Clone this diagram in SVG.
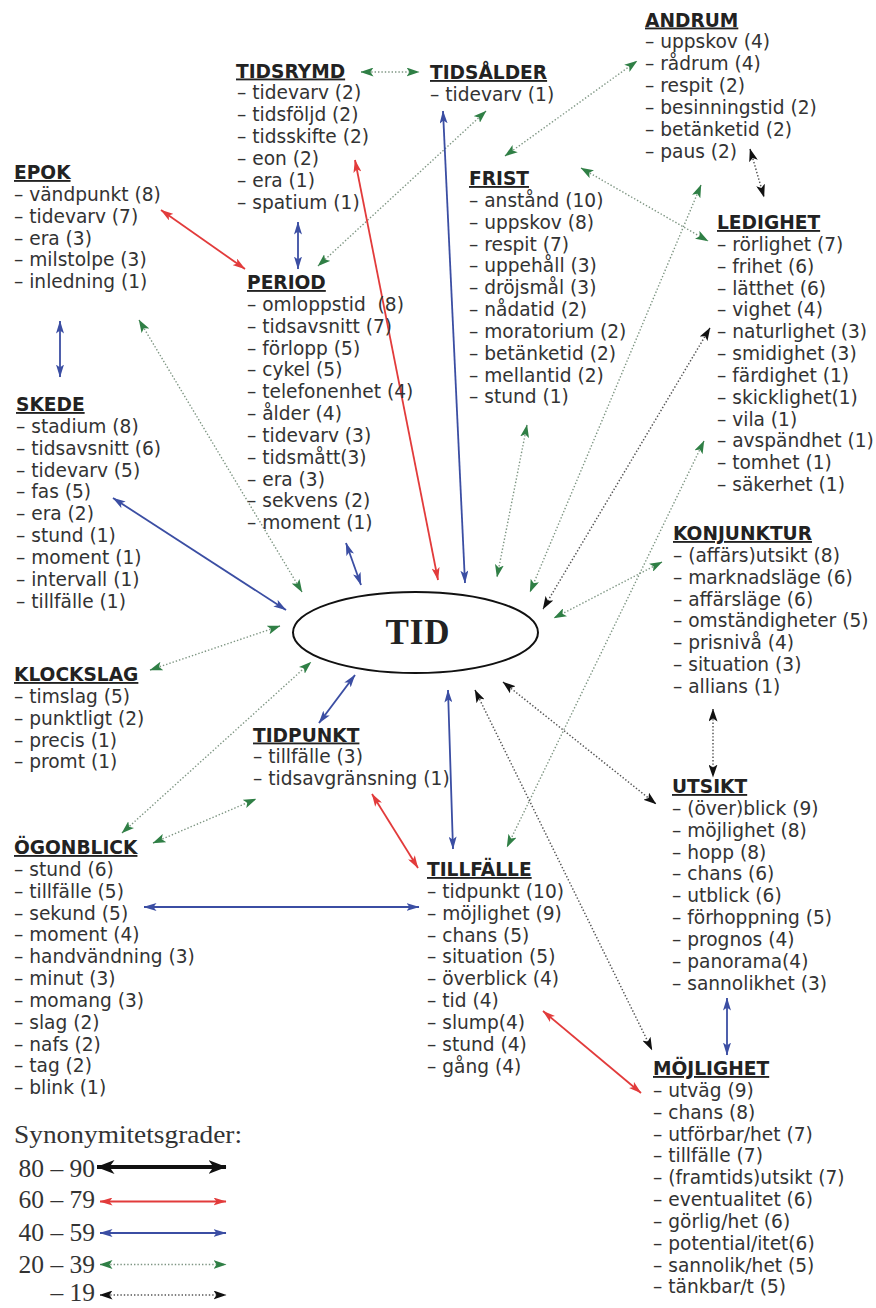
<svg xmlns="http://www.w3.org/2000/svg" width="876" height="1308" viewBox="0 0 876 1308">
<defs>
<style>
.t{font-family:"DejaVu Sans",Verdana,sans-serif;font-size:18.6px;fill:#333}
.h{font-family:"DejaVu Sans",Verdana,sans-serif;font-size:18.6px;font-weight:bold;fill:#222;text-decoration:underline}
.lg{font-family:"Liberation Serif","Times New Roman",serif;font-size:25.5px;fill:#333}
.sR{stroke:#e23b3b;stroke-width:1.8;fill:none;marker-start:url(#aR);marker-end:url(#aR)}
.sB{stroke:#3b4ea3;stroke-width:1.8;fill:none;marker-start:url(#aB);marker-end:url(#aB)}
.dG{stroke:#7d9582;stroke-width:1.4;stroke-dasharray:1.4 2;fill:none;marker-start:url(#aG);marker-end:url(#aG)}
.dK{stroke:#555;stroke-width:1.5;stroke-dasharray:1.4 2;fill:none;marker-start:url(#aK);marker-end:url(#aK)}
.sK{stroke:#111;stroke-width:4;fill:none;marker-start:url(#aKL);marker-end:url(#aKL)}
</style>
<marker id="aR" viewBox="0 0 13 8" refX="12.5" refY="4" markerWidth="13" markerHeight="8" markerUnits="userSpaceOnUse" orient="auto-start-reverse"><path d="M0,0 L13,4 L0,8 L3,4 Z" fill="#e23b3b"/></marker>
<marker id="aB" viewBox="0 0 13 8" refX="12.5" refY="4" markerWidth="13" markerHeight="8" markerUnits="userSpaceOnUse" orient="auto-start-reverse"><path d="M0,0 L13,4 L0,8 L3,4 Z" fill="#3b4ea3"/></marker>
<marker id="aG" viewBox="0 0 13 9" refX="12.5" refY="4.5" markerWidth="13" markerHeight="9" markerUnits="userSpaceOnUse" orient="auto-start-reverse"><path d="M0,0 L13,4.5 L0,9 L3,4.5 Z" fill="#2f7f45"/></marker>
<marker id="aK" viewBox="0 0 13 9" refX="12.5" refY="4.5" markerWidth="13" markerHeight="9" markerUnits="userSpaceOnUse" orient="auto-start-reverse"><path d="M0,0 L13,4.5 L0,9 L3,4.5 Z" fill="#111"/></marker>
<marker id="aKL" viewBox="0 0 18 14" refX="17.5" refY="7" markerWidth="18" markerHeight="14" markerUnits="userSpaceOnUse" orient="auto-start-reverse"><path d="M0,0 L18,7 L0,14 L5,7 Z" fill="#111"/></marker>
</defs>
<rect width="876" height="1308" fill="#fff"/>

<g id="connectors">
<line class="dG" x1="361" y1="72" x2="419" y2="72"/>
<line class="sB" x1="298" y1="222" x2="298" y2="269"/>
<line class="sR" x1="161" y1="210" x2="245" y2="269"/>
<line class="dG" x1="486" y1="111" x2="318" y2="266"/>
<line class="dG" x1="505" y1="156" x2="637" y2="61"/>
<line class="dK" x1="750" y1="149" x2="764" y2="197"/>
<line class="dG" x1="581" y1="168" x2="708" y2="241"/>
<line class="sB" x1="443" y1="111" x2="465" y2="583"/>
<line class="sR" x1="355" y1="160" x2="438" y2="580"/>
<line class="sB" x1="346" y1="543" x2="361" y2="585"/>
<line class="dG" x1="139" y1="320" x2="302" y2="592"/>
<line class="sB" x1="60" y1="321" x2="60" y2="377"/>
<line class="sB" x1="113" y1="498" x2="286" y2="610"/>
<line class="dG" x1="150" y1="670" x2="280" y2="626"/>
<line class="dG" x1="122" y1="833" x2="311" y2="662"/>
<line class="dG" x1="153" y1="843" x2="256" y2="799"/>
<line class="sB" x1="319" y1="723" x2="355" y2="675"/>
<line class="sR" x1="372" y1="794" x2="418" y2="868"/>
<line class="sB" x1="448" y1="690" x2="453" y2="849"/>
<line class="sB" x1="144" y1="907" x2="419" y2="907"/>
<line class="sR" x1="543" y1="1011" x2="641" y2="1093"/>
<line class="dK" x1="475" y1="690" x2="652" y2="1050"/>
<line class="dK" x1="503" y1="682" x2="656" y2="804"/>
<line class="dK" x1="713" y1="709" x2="713" y2="777"/>
<line class="sB" x1="727" y1="998" x2="727" y2="1055"/>
<line class="dG" x1="662" y1="562" x2="554" y2="618"/>
<line class="dK" x1="710" y1="328" x2="543" y2="609"/>
<line class="dG" x1="527" y1="425" x2="497" y2="577"/>
<line class="dG" x1="701" y1="185" x2="530" y2="592"/>
<line class="dG" x1="704" y1="441" x2="507" y2="847"/>
</g>

<g id="tid">
<ellipse cx="415.5" cy="632.5" rx="122.5" ry="40.5" fill="#fff" stroke="#111" stroke-width="2"/>
<text x="418" y="643.5" text-anchor="middle" font-family="'Liberation Serif','Times New Roman',serif" font-size="35" font-weight="bold" fill="#222" letter-spacing="1">TID</text>
</g>

<g id="andrum">
<text class="h" x="645" y="26.5">ANDRUM</text>
<text class="t" x="645" y="48.3"><tspan x="645">– uppskov (4)</tspan><tspan x="645" dy="21.85">– rådrum (4)</tspan><tspan x="645" dy="21.85">– respit (2)</tspan><tspan x="645" dy="21.85">– besinningstid (2)</tspan><tspan x="645" dy="21.85">– betänketid (2)</tspan><tspan x="645" dy="21.85">– paus (2)</tspan></text>
</g>

<g id="tidsrymd">
<text class="h" x="236" y="77.5">TIDSRYMD</text>
<text class="t" x="237" y="99.3"><tspan x="237">– tidevarv (2)</tspan><tspan x="237" dy="21.85">– tidsföljd (2)</tspan><tspan x="237" dy="21.85">– tidsskifte (2)</tspan><tspan x="237" dy="21.85">– eon (2)</tspan><tspan x="237" dy="21.85">– era (1)</tspan><tspan x="237" dy="21.85">– spatium (1)</tspan></text>
</g>

<g id="tidsalder">
<text class="h" x="430" y="79">TIDSÅLDER</text>
<text class="t" x="430" y="101"><tspan x="430">– tidevarv (1)</tspan></text>
</g>

<g id="epok">
<text class="h" x="14" y="179">EPOK</text>
<text class="t" x="14" y="200.8"><tspan x="14">– vändpunkt (8)</tspan><tspan x="14" dy="21.85">– tidevarv (7)</tspan><tspan x="14" dy="21.85">– era (3)</tspan><tspan x="14" dy="21.85">– milstolpe (3)</tspan><tspan x="14" dy="21.85">– inledning (1)</tspan></text>
</g>

<g id="frist">
<text class="h" x="469" y="185">FRIST</text>
<text class="t" x="469" y="206.8"><tspan x="469">– anstånd (10)</tspan><tspan x="469" dy="21.85">– uppskov (8)</tspan><tspan x="469" dy="21.85">– respit (7)</tspan><tspan x="469" dy="21.85">– uppehåll (3)</tspan><tspan x="469" dy="21.85">– dröjsmål (3)</tspan><tspan x="469" dy="21.85">– nådatid (2)</tspan><tspan x="469" dy="21.85">– moratorium (2)</tspan><tspan x="469" dy="21.85">– betänketid (2)</tspan><tspan x="469" dy="21.85">– mellantid (2)</tspan><tspan x="469" dy="21.85">– stund (1)</tspan></text>
</g>

<g id="ledighet">
<text class="h" x="717" y="229">LEDIGHET</text>
<text class="t" x="717" y="250.8"><tspan x="717">– rörlighet (7)</tspan><tspan x="717" dy="21.85">– frihet (6)</tspan><tspan x="717" dy="21.85">– lätthet (6)</tspan><tspan x="717" dy="21.85">– vighet (4)</tspan><tspan x="717" dy="21.85">– naturlighet (3)</tspan><tspan x="717" dy="21.85">– smidighet (3)</tspan><tspan x="717" dy="21.85">– färdighet (1)</tspan><tspan x="717" dy="21.85">– skicklighet(1)</tspan><tspan x="717" dy="21.85">– vila (1)</tspan><tspan x="717" dy="21.85">– avspändhet (1)</tspan><tspan x="717" dy="21.85">– tomhet (1)</tspan><tspan x="717" dy="21.85">– säkerhet (1)</tspan></text>
</g>

<g id="period">
<text class="h" x="247" y="289">PERIOD</text>
<text class="t" x="247" y="310.8"><tspan x="247">– omloppstid&#160; (8)</tspan><tspan x="247" dy="21.85">– tidsavsnitt (7)</tspan><tspan x="247" dy="21.85">– förlopp (5)</tspan><tspan x="247" dy="21.85">– cykel (5)</tspan><tspan x="247" dy="21.85">– telefonenhet (4)</tspan><tspan x="247" dy="21.85">– ålder (4)</tspan><tspan x="247" dy="21.85">– tidevarv (3)</tspan><tspan x="247" dy="21.85">– tidsmått(3)</tspan><tspan x="247" dy="21.85">– era (3)</tspan><tspan x="247" dy="21.85">– sekvens (2)</tspan><tspan x="247" dy="21.85">– moment (1)</tspan></text>
</g>

<g id="skede">
<text class="h" x="16" y="411">SKEDE</text>
<text class="t" x="16" y="432.8"><tspan x="16">– stadium (8)</tspan><tspan x="16" dy="21.85">– tidsavsnitt (6)</tspan><tspan x="16" dy="21.85">– tidevarv (5)</tspan><tspan x="16" dy="21.85">– fas (5)</tspan><tspan x="16" dy="21.85">– era (2)</tspan><tspan x="16" dy="21.85">– stund (1)</tspan><tspan x="16" dy="21.85">– moment (1)</tspan><tspan x="16" dy="21.85">– intervall (1)</tspan><tspan x="16" dy="21.85">– tillfälle (1)</tspan></text>
</g>

<g id="konjunktur">
<text class="h" x="673" y="540">KONJUNKTUR</text>
<text class="t" x="673" y="561.8"><tspan x="673">– (affärs)utsikt (8)</tspan><tspan x="673" dy="21.85">– marknadsläge (6)</tspan><tspan x="673" dy="21.85">– affärsläge (6)</tspan><tspan x="673" dy="21.85">– omständigheter (5)</tspan><tspan x="673" dy="21.85">– prisnivå (4)</tspan><tspan x="673" dy="21.85">– situation (3)</tspan><tspan x="673" dy="21.85">– allians (1)</tspan></text>
</g>

<g id="klockslag">
<text class="h" x="14" y="681">KLOCKSLAG</text>
<text class="t" x="14" y="702.8"><tspan x="14">– timslag (5)</tspan><tspan x="14" dy="21.85">– punktligt (2)</tspan><tspan x="14" dy="21.85">– precis (1)</tspan><tspan x="14" dy="21.85">– promt (1)</tspan></text>
</g>

<g id="tidpunkt">
<text class="h" x="253" y="741.5">TIDPUNKT</text>
<text class="t" x="253" y="763.3"><tspan x="253">– tillfälle (3)</tspan><tspan x="253" dy="21.85">– tidsavgränsning (1)</tspan></text>
</g>

<g id="utsikt">
<text class="h" x="672" y="793">UTSIKT</text>
<text class="t" x="672" y="814.8"><tspan x="672">– (över)blick (9)</tspan><tspan x="672" dy="21.85">– möjlighet (8)</tspan><tspan x="672" dy="21.85">– hopp (8)</tspan><tspan x="672" dy="21.85">– chans (6)</tspan><tspan x="672" dy="21.85">– utblick (6)</tspan><tspan x="672" dy="21.85">– förhoppning (5)</tspan><tspan x="672" dy="21.85">– prognos (4)</tspan><tspan x="672" dy="21.85">– panorama(4)</tspan><tspan x="672" dy="21.85">– sannolikhet (3)</tspan></text>
</g>

<g id="ogonblick">
<text class="h" x="14" y="854">ÖGONBLICK</text>
<text class="t" x="14" y="875.8"><tspan x="14">– stund (6)</tspan><tspan x="14" dy="21.85">– tillfälle (5)</tspan><tspan x="14" dy="21.85">– sekund (5)</tspan><tspan x="14" dy="21.85">– moment (4)</tspan><tspan x="14" dy="21.85">– handvändning (3)</tspan><tspan x="14" dy="21.85">– minut (3)</tspan><tspan x="14" dy="21.85">– momang (3)</tspan><tspan x="14" dy="21.85">– slag (2)</tspan><tspan x="14" dy="21.85">– nafs (2)</tspan><tspan x="14" dy="21.85">– tag (2)</tspan><tspan x="14" dy="21.85">– blink (1)</tspan></text>
</g>

<g id="tillfalle">
<text class="h" x="427" y="876">TILLFÄLLE</text>
<text class="t" x="427" y="897.8"><tspan x="427">– tidpunkt (10)</tspan><tspan x="427" dy="21.85">– möjlighet (9)</tspan><tspan x="427" dy="21.85">– chans (5)</tspan><tspan x="427" dy="21.85">– situation (5)</tspan><tspan x="427" dy="21.85">– överblick (4)</tspan><tspan x="427" dy="21.85">– tid (4)</tspan><tspan x="427" dy="21.85">– slump(4)</tspan><tspan x="427" dy="21.85">– stund (4)</tspan><tspan x="427" dy="21.85">– gång (4)</tspan></text>
</g>

<g id="mojlighet">
<text class="h" x="653" y="1075">MÖJLIGHET</text>
<text class="t" x="653" y="1096.8"><tspan x="653">– utväg (9)</tspan><tspan x="653" dy="21.85">– chans (8)</tspan><tspan x="653" dy="21.85">– utförbar/het (7)</tspan><tspan x="653" dy="21.85">– tillfälle (7)</tspan><tspan x="653" dy="21.85">– (framtids)utsikt (7)</tspan><tspan x="653" dy="21.85">– eventualitet (6)</tspan><tspan x="653" dy="21.85">– görlig/het (6)</tspan><tspan x="653" dy="21.85">– potential/itet(6)</tspan><tspan x="653" dy="21.85">– sannolik/het (5)</tspan><tspan x="653" dy="21.85">– tänkbar/t (5)</tspan></text>
</g>

<g id="legend">
<text class="lg" x="14" y="1143" font-size="26" textLength="228" lengthAdjust="spacingAndGlyphs">Synonymitetsgrader:</text>
<text class="lg" x="95" y="1176.5" text-anchor="end">80 – 90</text>
<text class="lg" x="95" y="1208.3" text-anchor="end">60 – 79</text>
<text class="lg" x="95" y="1240.5" text-anchor="end">40 – 59</text>
<text class="lg" x="95" y="1272.5" text-anchor="end">20 – 39</text>
<text class="lg" x="95" y="1301" text-anchor="end" font-size="24">– 19</text>
<line class="sK" x1="97" y1="1167" x2="226" y2="1167"/>
<line class="sR" x1="100" y1="1201.5" x2="226" y2="1201.5"/>
<line class="sB" x1="100" y1="1233" x2="226" y2="1233"/>
<line class="dG" x1="100" y1="1264.5" x2="226" y2="1264.5"/>
<line class="dK" x1="100" y1="1295" x2="226" y2="1295"/>
</g>
</svg>
